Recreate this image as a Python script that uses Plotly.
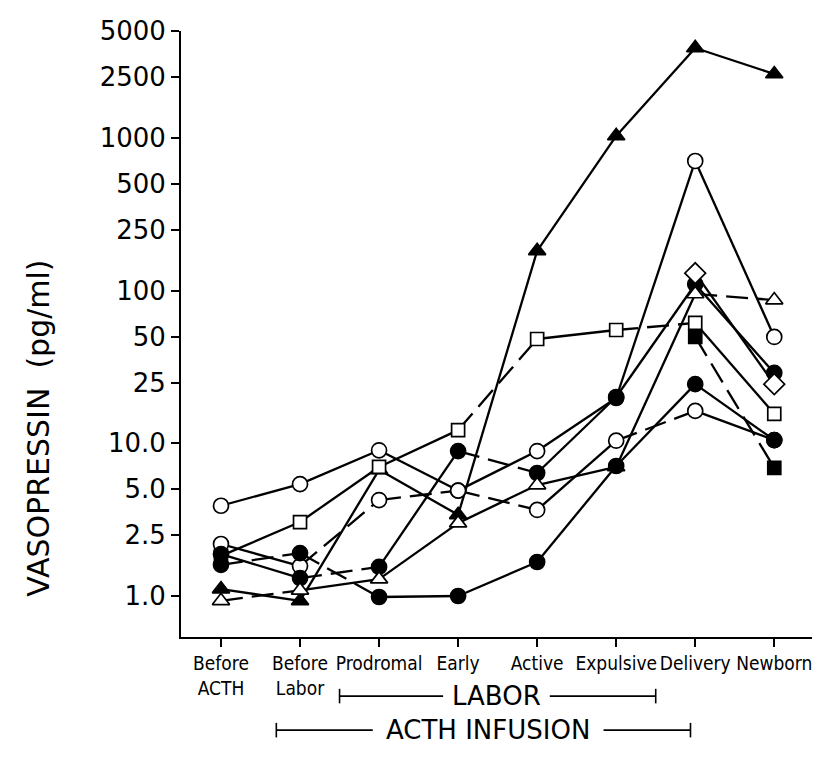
import plotly.graph_objects as go

# ---------------- data ----------------
categories = ["Before<br>ACTH", "Before<br>Labor", "Prodromal", "Early",
              "Active", "Expulsive", "Delivery", "Newborn"]

y_tick_values = [1.0, 2.5, 5.0, 10.0, 25, 50, 100, 250, 500, 1000, 2500, 5000]
y_tick_labels = ["1.0", "2.5", "5.0", "10.0", "25", "50", "100", "250",
                 "500", "1000", "2500", "5000"]

filled_triangle = [1.11, 0.93, 6.7, 3.4, 182, 1030, 3880, 2620]
open_circle_a = [3.9, 5.4, 9.0, 4.9, 3.66, 10.4, 16.3, 10.5]
open_circle_b = [2.19, 1.57, 4.25, 4.9, 8.9, 19.8, 706, 49.7]
open_square = [1.83, 3.05, 7.0, 12.2, 48.2, 55.2, 61.4, 15.6]
filled_circle_a = [1.88, 1.31, 1.55, 8.9, 6.39, 20.1, 110, 28.9]
open_triangle = [0.93, 1.09, 1.29, 3.0, 5.33, 7.0, 95, 86.7]
filled_circle_b = [1.60, 1.91, 0.985, 1.0, 1.67, 7.1, 24.4, 10.5]
open_diamond = [None, None, None, None, None, None, 130, 24.4]
filled_square = [None, None, None, None, None, None, 49.7, 6.9]

# (values, marker symbol, filled?, per-segment line style S=solid D=dashed)
series = [
    (filled_triangle, "triangle-up", True, "SSSSSSS"),
    (open_circle_a, "circle", False, "SSSDSDS"),
    (open_circle_b, "circle", False, "SDDSSSS"),
    (open_square, "square", False, "SSSDSDS"),
    (filled_circle_a, "circle", True, "SDSDSSS"),
    (open_triangle, "triangle-up", False, "DSSSSSD"),
    (filled_circle_b, "circle", True, "DDSSSSS"),
    (open_diamond, "diamond", False, "SSSSSSS"),
    (filled_square, "square", True, "SSSSSSD"),
]

dash_map = {"S": "solid", "D": "22px,9px"}
size_map = {"circle": 15, "triangle-up": 15, "square": 13, "diamond": 16}

x_idx = list(range(len(categories)))

fig = go.Figure()

# connecting lines, segment by segment
for vals, sym, filled, styles in series:
    for i in range(len(vals) - 1):
        if vals[i] is None or vals[i + 1] is None:
            continue
        fig.add_trace(go.Scatter(
            x=[x_idx[i], x_idx[i + 1]], y=[vals[i], vals[i + 1]],
            mode="lines",
            line=dict(color="black", width=2.3, dash=dash_map[styles[i]]),
            showlegend=False, hoverinfo="skip"))

# markers on top
for vals, sym, filled, styles in series:
    fig.add_trace(go.Scatter(
        x=x_idx, y=vals, mode="markers",
        marker=dict(symbol=sym, size=size_map[sym],
                    color="black" if filled else "white",
                    line=dict(color="black", width=1.7)),
        showlegend=False, cliponaxis=False))

tick_font = dict(family="DejaVu Sans", size=26, color="black")
cat_font = dict(family="DejaVu Sans Condensed, Liberation Sans Narrow, DejaVu Sans",
                size=19, color="black")

fig.update_layout(
    width=820, height=767,
    margin=dict(l=173, r=15, t=23, b=138, autoexpand=False),
    paper_bgcolor="white", plot_bgcolor="white",
    xaxis=dict(range=[-0.506, 7.49], tickmode="array", tickvals=x_idx,
               ticktext=categories, tickangle=0, automargin=False,
               showline=True, linecolor="black",
               linewidth=2, ticks="outside", ticklen=8, tickwidth=2,
               tickcolor="black", showgrid=False, zeroline=False,
               tickfont=cat_font),
    yaxis=dict(type="log", range=[-0.2685, 3.70], tickmode="array",
               tickvals=y_tick_values, ticktext=y_tick_labels,
               automargin=False, ticklabelstandoff=0,
               showline=True, linecolor="black", linewidth=2,
               ticks="outside", ticklen=8, tickwidth=2, tickcolor="black",
               showgrid=False, zeroline=False, tickfont=tick_font),
)

# y-axis title
fig.add_annotation(text="VASOPRESSIN  (pg/ml)", textangle=-90,
                   xref="paper", yref="paper", x=-0.226, y=0.344,
                   showarrow=False, xanchor="center", yanchor="middle",
                   font=dict(family="DejaVu Sans", size=30, color="black"))

# brackets for LABOR and ACTH INFUSION
brackets = [
    ("LABOR", 1.5, 5.5, 2.81, 4.16, 3.48, -0.0975),
    ("ACTH INFUSION", 0.7, 5.94, 1.92, 4.84, 3.38, -0.1537),
]
for label, x0, x1, gap0, gap1, xc, yp in brackets:
    for a, b in [(x0, gap0), (gap1, x1)]:
        fig.add_shape(type="line", xref="x", yref="paper", x0=a, x1=b,
                      y0=yp, y1=yp, line=dict(color="black", width=1.6))
    for xe in (x0, x1):
        fig.add_shape(type="line", xref="x", yref="paper", x0=xe, x1=xe,
                      y0=yp - 0.012, y1=yp + 0.012,
                      line=dict(color="black", width=1.6))
    fig.add_annotation(text=label, xref="x", yref="paper", x=xc, y=yp,
                       showarrow=False, xanchor="center", yanchor="middle",
                       font=dict(family="DejaVu Sans", size=26, color="black"))

fig.write_html("out.html")
